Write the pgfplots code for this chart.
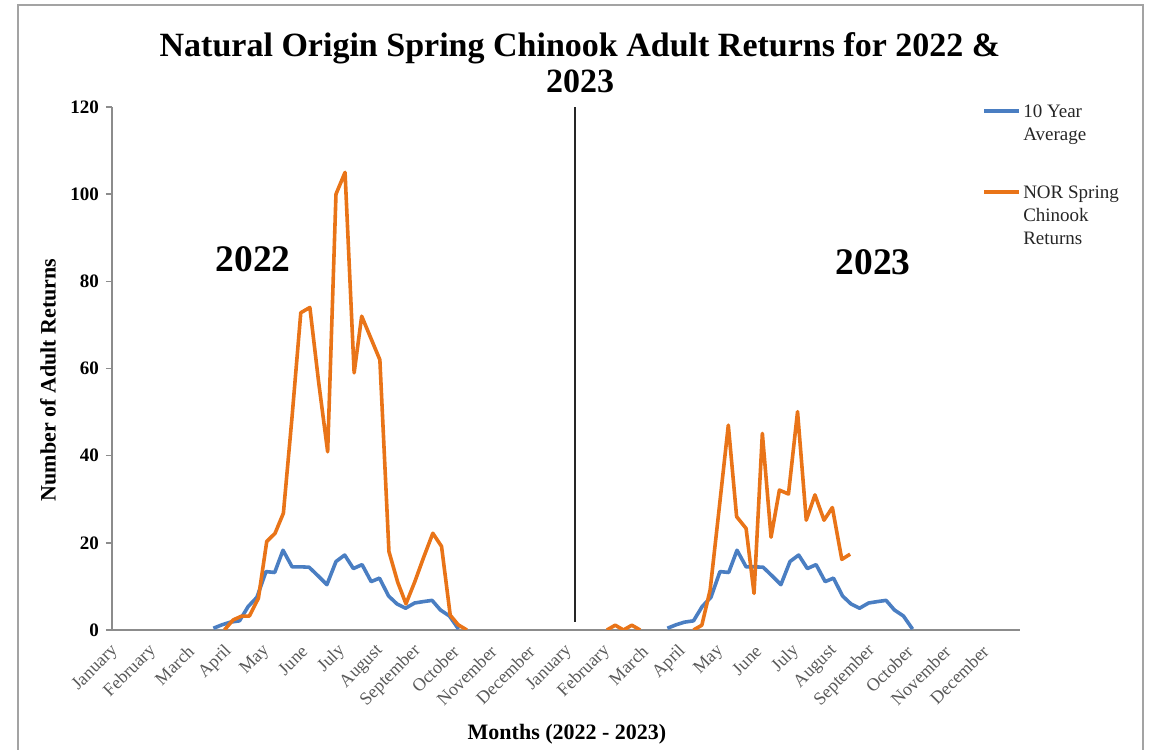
\documentclass[border=0pt]{standalone}
\usepackage{pgfplots}
\pgfplotsset{compat=1.18}
\usepackage{fontspec}
\setmainfont{Liberation Serif}
\definecolor{avgblue}{HTML}{4A7EC2}
\definecolor{norange}{HTML}{E97418}
\definecolor{axgray}{HTML}{8C8C8C}
\definecolor{lblgray}{HTML}{595959}
\begin{document}
\begin{tikzpicture}
\path[use as bounding box] (0pt,0pt) rectangle (575pt,374.5pt);
\draw[axgray!80, line width=1pt] (9pt,-5pt) rectangle (571.5pt,372pt);
\begin{axis}[
  at={(56pt,59.5pt)}, anchor=south west,
  scale only axis, width=454pt, height=261.5pt,
  xmin=0, xmax=24, ymin=0, ymax=120,
  axis lines=left, axis line style={-, axgray, line width=0.8pt},
  xtick={0,...,23},
  xticklabels={January,February,March,April,May,June,July,August,September,October,November,December,January,February,March,April,May,June,July,August,September,October,November,December},
  xtick style={draw=none},
  xticklabel style={rotate=45, anchor=east, text=lblgray, font=\fontsize{9}{10.5}\selectfont, inner sep=1pt, xshift=-2.1pt, yshift=-5.6pt},
  ytick={0,20,...,120},
  ytick style={axgray, line width=0.8pt},
  tick align=outside, major tick length=3pt,
  yticklabel style={font=\fontsize{9.5}{11}\selectfont\bfseries},
  /pgf/number format/assume math mode=true,
  unbounded coords=jump,
  legend style={at={(0.958,1.015)}, anchor=north west, draw=none, fill=none, inner sep=0pt, row sep=29pt, column sep=0pt, font=\fontsize{9.5}{11.5}\selectfont, text=black!85, nodes={inner sep=1pt}},
  legend cell align=left,
  legend image code/.code={\draw[#1, line width=2pt] (0pt,0pt) -- (17.5pt,0pt);},
]
\addplot[avgblue, line width=1.8pt, line join=round] coordinates {
(2.68,0.4) (2.91,1.2) (3.13,1.8) (3.37,2.1) (3.60,5.4) (3.83,7.5) (4.07,13.4) (4.30,13.2) (4.52,18.3) (4.76,14.5) (4.98,14.5) (5.21,14.4) (5.45,12.4) (5.68,10.4) (5.92,15.7) (6.15,17.2) (6.38,14.1) (6.61,15.0) (6.85,11.1) (7.07,11.9) (7.31,7.8) (7.53,6.0) (7.76,5.0) (8.00,6.2) (8.22,6.5) (8.46,6.8) (8.68,4.6) (8.92,3.2) (9.16,0.2)
(12,nan)
(14.68,0.4) (14.91,1.2) (15.13,1.8) (15.37,2.1) (15.60,5.4) (15.83,7.5) (16.07,13.4) (16.30,13.2) (16.52,18.3) (16.76,14.5) (16.98,14.5) (17.21,14.4) (17.45,12.4) (17.68,10.4) (17.92,15.7) (18.15,17.2) (18.38,14.1) (18.61,15.0) (18.85,11.1) (19.07,11.9) (19.31,7.8) (19.53,6.0) (19.76,5.0) (20.00,6.2) (20.22,6.5) (20.46,6.8) (20.68,4.6) (20.92,3.2) (21.16,0.2)
};
\addlegendentry{\begin{tabular}[t]{@{}l@{}}10 Year\\Average\end{tabular}}
\addplot[norange, line width=1.8pt, line join=round] coordinates {
(2.97,0) (3.20,2.3) (3.43,3.2) (3.63,3.2) (3.87,7.3) (4.09,20.3) (4.31,22.2) (4.53,26.8) (4.76,49) (4.99,72.8) (5.23,74.0) (5.46,57) (5.70,40.9) (5.92,100.0) (6.16,105.0) (6.40,59.0) (6.60,72.0) (6.84,67) (7.08,62) (7.32,18) (7.55,11) (7.77,6) (8.00,11) (8.23,16.5) (8.48,22.2) (8.71,19.2) (8.94,3.4) (9.15,1.2) (9.38,0)
(12,nan)
(13.08,0) (13.30,1.1) (13.52,0) (13.74,1.1) (13.96,0)
(14.5,nan)
(15.37,0) (15.59,1.1) (15.81,9.2) (16.05,28) (16.29,47.0) (16.51,26.0) (16.76,23.3) (16.97,8.4) (17.19,45.1) (17.42,21.3) (17.64,32.1) (17.88,31.2) (18.12,50.1) (18.35,25.2) (18.58,31.0) (18.82,25.2) (19.04,28.1) (19.29,16.2) (19.51,17.4)
};
\addlegendentry{\begin{tabular}[t]{@{}l@{}}NOR Spring\\Chinook\\Returns\end{tabular}}
\addplot[black!85, line width=1pt, forget plot] coordinates {(12.24,1.9) (12.24,120)};
\node[font=\fontsize{18.75}{20}\selectfont\bfseries] at (axis cs:3.73,85.1) {2022};
\node[font=\fontsize{18.75}{20}\selectfont\bfseries] at (axis cs:20.12,84.4) {2023};
\end{axis}
\node[anchor=base, font=\fontsize{17}{18}\selectfont\bfseries] at (290pt,346pt) {Natural Origin Spring Chinook Adult Returns for 2022 \&};
\node[anchor=base, font=\fontsize{17}{18}\selectfont\bfseries] at (290pt,328pt) {2023};
\node[anchor=base, font=\fontsize{11}{12}\selectfont\bfseries] at (283.5pt,5pt) {Months (2022 - 2023)};
\node[rotate=90, font=\fontsize{11}{12}\selectfont\bfseries] at (24pt,184.5pt) {Number of Adult Returns};
\end{tikzpicture}
\end{document}
